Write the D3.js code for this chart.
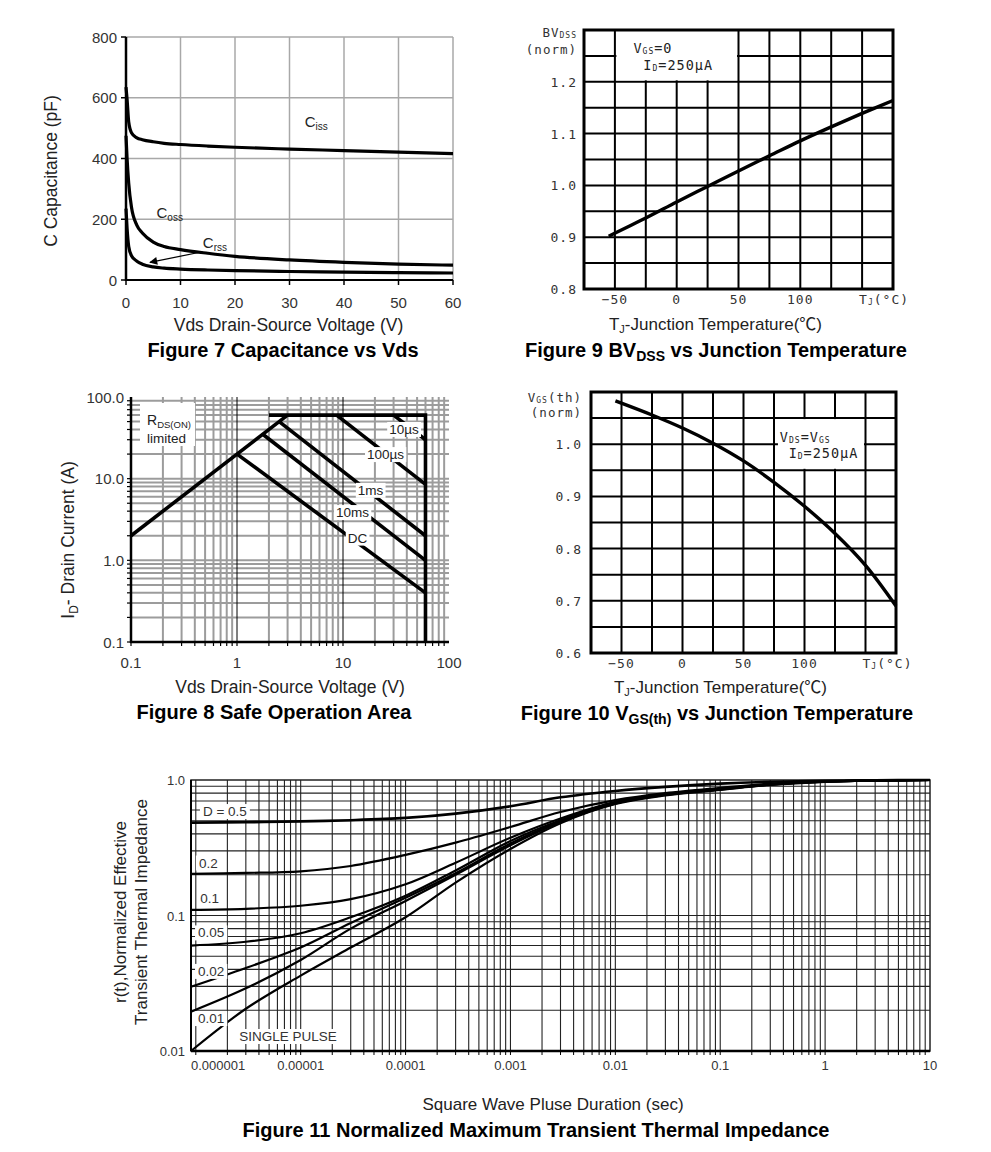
<!DOCTYPE html>
<html><head><meta charset="utf-8">
<script src="https://cdn.jsdelivr.net/npm/d3@7/dist/d3.min.js"></script>
<style>html,body{margin:0;padding:0;background:#fff}svg{display:block}</style>
</head><body>
<svg id="chart" width="991" height="1152"></svg>
<script>
// ===== Figure 7 : Capacitance vs Vds =====
const capVoltage = [0,0.2,0.5,1,2,3,5,7,10,15,20,30,40,50,60];
const capCiss = [635,595,520,485,468,462,455,450,446,441,437,431,426,421,416];
const capCoss = [475,400,318,240,180,155,125,110,100,88,78,66,58,52,49];
const capCrss = [235,170,110,80,62,52,43,39,36,33,31,28,26,24,23];
const capXTicks = [0,10,20,30,40,50,60];
const capYTicks = [0,200,400,600,800];
const capArrowV = [14,4.4];
const capArrowC = [93,58];

// ===== Figure 8 : Safe Operation Area =====
const soaXTicks = [0.1,1,10,100];
const soaXTickLabels = ["0.1","1","10","100"];
const soaYTicks = [0.1,1,10,100];
const soaYTickLabels = ["0.1","1.0","10.0","100.0"];
const soaRdsV = [0.1,3];
const soaRdsI = [2,60];
const soaLimitV = [2,60,60];
const soaLimitI = [60,60,0.1];
const soaPulseNames = ["10µs","100µs","1ms","10ms","DC"];
const soaPulseStartV = [30,8.7,2.5,1.75,1];
const soaPulseStartI = [60,60,50,35,20];
const soaPulseEndV = [60,60,60,60,60];
const soaPulseEndI = [30,8.5,2,1,0.4];
const soaLabelV = [37.6,25.2,18.2,12.3,13.7];
const soaLabelI = [40.6,20,7.3,3.9,1.9];

// ===== Figure 9 : BVDSS vs TJ =====
const tjXTicks = [-50,0,50,100];
const tjXTickLabels = ["\u221250","0","50","100"];
const tjGrid = [-50,-25,0,25,50,75,100,125,150];
const bvTemp = [-55,-25,0,25,50,75,100,125,150,175];
const bvNorm = [0.902,0.937,0.968,0.998,1.028,1.057,1.086,1.113,1.139,1.164];
const bvYTicks = [0.8,0.9,1.0,1.1,1.2];
const bvYTickLabels = ["0.8","0.9","1.0","1.1","1.2"];
const bvGrid = [0.85,0.9,0.95,1.0,1.05,1.1,1.15,1.2,1.25];

// ===== Figure 10 : VGS(th) vs TJ =====
const vthTemp = [-55,-25,0,25,50,75,100,125,150,175];
const vthNorm = [1.083,1.056,1.031,1.002,0.968,0.927,0.881,0.829,0.768,0.69];
const vthYTicks = [0.6,0.7,0.8,0.9,1.0];
const vthYTickLabels = ["0.6","0.7","0.8","0.9","1.0"];
const vthGrid = [0.65,0.7,0.75,0.8,0.85,0.9,0.95,1.0,1.05];

// ===== Figure 11 : Transient Thermal Impedance =====
const zthTime = [9e-7,3e-6,1e-5,3e-5,1e-4,3e-4,1e-3,3e-3,0.01,0.03,0.1,0.3,1,3,10];
const zthD050 = [0.485,0.488,0.495,0.505,0.525,0.565,0.64,0.745,0.83,0.89,0.94,0.97,0.987,0.996,1.0];
const zthD020 = [0.203,0.206,0.212,0.232,0.28,0.345,0.45,0.58,0.71,0.80,0.875,0.94,0.978,0.993,1.0];
const zthD010 = [0.11,0.112,0.118,0.132,0.17,0.245,0.375,0.52,0.69,0.79,0.86,0.93,0.975,0.992,1.0];
const zthD005 = [0.06,0.064,0.074,0.097,0.14,0.215,0.355,0.505,0.68,0.785,0.857,0.928,0.973,0.991,1.0];
const zthD002 = [0.0298,0.041,0.058,0.088,0.135,0.205,0.34,0.495,0.675,0.78,0.853,0.925,0.972,0.99,1.0];
const zthD001 = [0.0195,0.029,0.047,0.08,0.128,0.2,0.33,0.49,0.67,0.775,0.85,0.923,0.971,0.99,1.0];
const zthSingle = [0.01,0.0205,0.036,0.058,0.097,0.175,0.31,0.48,0.665,0.77,0.845,0.92,0.97,0.99,1.0];
const zthNames = ["D = 0.5","0.2","0.1","0.05","0.02","0.01","SINGLE PULSE"];
const zthLabelT = [1.17e-6,1.07e-6,1.1e-6,1.05e-6,1.05e-6,1.05e-6,2.6e-6];
const zthLabelR = [0.59,0.246,0.135,0.075,0.039,0.0175,0.0129];
const zthXTicks = [1e-6,1e-5,1e-4,1e-3,0.01,0.1,1,10];
const zthXTickLabels = ["0.000001","0.00001","0.0001","0.001","0.01","0.1","1","10"];
const zthYTicks = [0.01,0.1,1];
const zthYTickLabels = ["0.01","0.1","1.0"];

const SANS = '"Liberation Sans", Arial, Helvetica, "Noto Sans CJK SC", sans-serif';
const MONO = '"DejaVu Sans Mono", "Liberation Mono", monospace';
const svg = d3.select("#chart");

function rich(g, x, y, segs, o) {
  o = o || {};
  const size = o.size || 14;
  const subSize = o.subSize || Math.round(size * 0.68);
  const subDy = o.subDy != null ? o.subDy : size * 0.28;
  const t = g.append("text").attr("x", x).attr("y", y)
    .attr("font-family", o.family || SANS).attr("font-size", size)
    .attr("font-weight", o.weight || "normal").attr("fill", o.fill || "#000")
    .attr("text-anchor", o.anchor || "start");
  if (o.spacing) t.attr("letter-spacing", o.spacing);
  if (o.transform) t.attr("transform", o.transform);
  let inSub = false;
  segs.forEach(s => {
    const [str, sub] = Array.isArray(s) ? s : [s, false];
    const sp = t.append("tspan").text(str);
    if (sub) { sp.attr("font-size", subSize); if (!inSub) sp.attr("dy", subDy); }
    else if (inSub) sp.attr("dy", -subDy);
    inSub = sub;
  });
  return t;
}
function backBox(g, t, px, py) {
  const b = t.node().getBBox();
  g.insert("rect", () => t.node()).attr("x", b.x - px).attr("y", b.y - py)
    .attr("width", b.width + 2 * px).attr("height", b.height + 2 * py).attr("fill", "#fff");
}
function vLines(g, vals, x, y0, y1, color, w) {
  g.append("g").selectAll("line").data(vals).join("line")
    .attr("x1", d => x(d)).attr("x2", d => x(d)).attr("y1", y0).attr("y2", y1)
    .attr("stroke", color).attr("stroke-width", w);
}
function hLines(g, vals, y, x0, x1, color, w) {
  g.append("g").selectAll("line").data(vals).join("line")
    .attr("y1", d => y(d)).attr("y2", d => y(d)).attr("x1", x0).attr("x2", x1)
    .attr("stroke", color).attr("stroke-width", w);
}
function logMinor(lo, hi) {
  const out = [];
  for (let e = Math.floor(Math.log10(lo)); e < Math.ceil(Math.log10(hi)); e++)
    for (let k = 1; k <= 9; k++) { const v = k * Math.pow(10, e); if (v >= lo * 0.999 && v <= hi * 1.001) out.push(v); }
  return out;
}

// ---------------- Figure 7 ----------------
(function () {
  const g = svg.append("g");
  const x = d3.scaleLinear().domain([0, 60]).range([126, 453]);
  const y = d3.scaleLinear().domain([0, 800]).range([280, 37]);
  vLines(g, capXTicks.slice(1), x, y(0), y(800), "#a8a8a8", 1.5);
  hLines(g, capYTicks.slice(1), y, x(0), x(60), "#a8a8a8", 1.5);
  g.append("line").attr("x1", x(0)).attr("x2", x(0)).attr("y1", y(800)).attr("y2", y(0) + 1).attr("stroke", "#000").attr("stroke-width", 2.5);
  g.append("line").attr("x1", x(0) - 1).attr("x2", x(60)).attr("y1", y(0)).attr("y2", y(0)).attr("stroke", "#000").attr("stroke-width", 2);
  vLines(g, capXTicks, x, y(0), y(0) + 5, "#000", 1.5);
  hLines(g, capYTicks, y, x(0) - 5, x(0), "#000", 1.5);
  capXTicks.forEach(v => rich(g, x(v), 308, [String(v)], { size: 15, anchor: "middle", fill: "#333" }));
  capYTicks.forEach(v => rich(g, 117, y(v) + 5.5, [String(v)], { size: 15, anchor: "end", fill: "#333" }));
  const line = d3.line().x((d, i) => x(capVoltage[i])).y(d => y(d)).curve(d3.curveMonotoneX);
  [capCiss, capCoss, capCrss].forEach(s => g.append("path").attr("d", line(s)).attr("fill", "none").attr("stroke", "#000").attr("stroke-width", 3.2));
  rich(g, x(32.8), y(504), ["C", ["iss", true]], { size: 15, fill: "#222", subSize: 10, subDy: 3 });
  rich(g, x(5.6), y(205), ["C", ["oss", true]], { size: 15, fill: "#222", subSize: 10, subDy: 3 });
  rich(g, x(14.1), y(105), ["C", ["rss", true]], { size: 15, fill: "#222", subSize: 10, subDy: 3 });
  const defs = svg.append("defs");
  defs.append("marker").attr("id", "arr").attr("viewBox", "0 0 10 10").attr("refX", 9).attr("refY", 5)
    .attr("markerWidth", 10).attr("markerHeight", 8).attr("markerUnits", "userSpaceOnUse").attr("orient", "auto")
    .append("path").attr("d", "M0,0 L10,5 L0,10 Z").attr("fill", "#000");
  g.append("line").attr("x1", x(capArrowV[0])).attr("y1", y(capArrowC[0])).attr("x2", x(capArrowV[1])).attr("y2", y(capArrowC[1]))
    .attr("stroke", "#000").attr("stroke-width", 1.2).attr("marker-end", "url(#arr)");
  rich(g, 288.5, 331, ["Vds Drain-Source Voltage (V)"], { size: 17.5, anchor: "middle", fill: "#222" });
  rich(g, 0, 0, ["C Capacitance (pF)"], { size: 17.5, anchor: "middle", fill: "#222", transform: "translate(57,171) rotate(-90)" });
  rich(g, 283, 357, ["Figure 7 Capacitance vs Vds"], { size: 20, weight: "bold", anchor: "middle" });
})();

// ---------------- Figure 8 ----------------
(function () {
  const g = svg.append("g");
  const x = d3.scaleLog().domain([0.1, 100]).range([131, 449]);
  const y = d3.scaleLog().domain([0.1, 100]).range([642, 397]);
  const minorX = logMinor(0.1, 100).filter(v => ![0.1, 1, 10].includes(+v.toPrecision(3)));
  const minorY = logMinor(0.1, 100).filter(v => +v.toPrecision(3) !== 0.1);
  const gray = "#9c9c9c";
  vLines(g, minorX, x, y(0.1), y(100), gray, 2);
  hLines(g, minorY, y, x(0.1), x(100), gray, 2);
  vLines(g, [1, 10], x, y(0.1), y(100), "#000", 1);
  vLines(g, logMinor(0.1, 100), x, y(0.1), y(0.1) + 4, "#000", 1.2);
  hLines(g, logMinor(0.1, 100), y, x(0.1) - 4, x(0.1), "#000", 1.2);
  g.append("line").attr("x1", x(0.1)).attr("x2", x(0.1)).attr("y1", y(100)).attr("y2", y(0.1) + 1).attr("stroke", "#000").attr("stroke-width", 2.5);
  g.append("line").attr("x1", x(0.1) - 1).attr("x2", x(100)).attr("y1", y(0.1)).attr("y2", y(0.1)).attr("stroke", "#000").attr("stroke-width", 2.5);
  soaXTicks.forEach((v, i) => rich(g, x(v), 668, [soaXTickLabels[i]], { size: 15, anchor: "middle", fill: "#333" }));
  soaYTicks.forEach((v, i) => rich(g, 124, y(v) + 5.5, [soaYTickLabels[i]], { size: 15, anchor: "end", fill: "#333" }));
  const lg = g.append("g").attr("fill", "none").attr("stroke", "#000").attr("stroke-width", 3.6);
  const pl = (vs, is) => d3.line()(vs.map((v, i) => [x(v), y(is[i])]));
  lg.append("path").attr("d", pl(soaRdsV, soaRdsI));
  lg.append("path").attr("d", pl(soaLimitV, soaLimitI));
  soaPulseNames.forEach((n, i) => lg.append("path").attr("d", pl([soaPulseStartV[i], soaPulseEndV[i]], [soaPulseStartI[i], soaPulseEndI[i]])));
  soaPulseNames.forEach((n, i) => {
    const t = rich(g, x(soaLabelV[i]), y(soaLabelI[i]) + 5, [n], { size: 13.5, anchor: "middle", fill: "#222" });
    backBox(g, t, 2, 0);
  });
  const t1 = rich(g, 147, 425, ["R", ["DS(ON)", true]], { size: 14, fill: "#222", subSize: 9.5, subDy: 3 });
  rich(g, 147, 443, ["limited"], { size: 13.5, fill: "#222" });
  g.insert("rect", () => t1.node()).attr("x", 140).attr("y", 403).attr("width", 55).attr("height", 43).attr("fill", "#fff");
  rich(g, 290, 693, ["Vds Drain-Source Voltage (V)"], { size: 17.5, anchor: "middle", fill: "#222" });
  rich(g, 0, 0, ["I", ["D", true], "- Drain Current (A)"], { size: 17.5, anchor: "middle", fill: "#222", subSize: 12, subDy: 4, transform: "translate(74,540) rotate(-90)" });
  rich(g, 274, 719, ["Figure 8 Safe Operation Area"], { size: 20, weight: "bold", anchor: "middle" });
})();

// ---------------- Figure 9 / 10 (shared style) ----------------
function tempPanel(o) {
  const g = svg.append("g");
  const x = d3.scaleLinear().domain([-75, 175]).range(o.xr);
  const y = d3.scaleLinear().domain(o.yd).range(o.yr);
  vLines(g, tjGrid, x, y(o.yd[0]), y(o.yd[1]), "#000", 2);
  hLines(g, o.grid, y, x(-75), x(175), "#000", 2);
  g.append("rect").attr("x", x(o.box[0]) + 1.5).attr("y", y(o.box[3]) + 1).attr("width", x(o.box[1]) - x(o.box[0]) - 3)
    .attr("height", y(o.box[2]) - y(o.box[3]) - 2.5).attr("fill", "#fff");
  g.append("path").attr("d", d3.line().curve(d3.curveCatmullRom.alpha(0.5))(o.t.map((t, i) => [x(t), y(o.v[i])])))
    .attr("fill", "none").attr("stroke", "#000").attr("stroke-width", 3.4);
  g.append("rect").attr("x", x(-75)).attr("y", y(o.yd[1])).attr("width", x(175) - x(-75)).attr("height", y(o.yd[0]) - y(o.yd[1]))
    .attr("fill", "none").attr("stroke", "#000").attr("stroke-width", 3);
  const tk = { size: 13, family: MONO, fill: "#333", spacing: 1 };
  tjXTicks.forEach((v, i) => rich(g, x(v), o.tickY, [tjXTickLabels[i]], Object.assign({ anchor: "middle" }, tk)));
  rich(g, x(150) - 3, o.tickY, ["T", ["J", true], "(\u00b0C)"], Object.assign({ subSize: 8, subDy: 1 }, tk));
  o.yTicks.forEach((v, i) => rich(g, o.yTickX, y(v) + 5, [o.yTickLabels[i]], Object.assign({ anchor: "end" }, tk)));
  rich(g, o.yTickX, o.yHead[0], o.yHeadSegs, Object.assign({ anchor: "end", subSize: 8, subDy: 1 }, tk, { size: 12.5 }));
  rich(g, o.yTickX, o.yHead[1], ["(norm)"], Object.assign({ anchor: "end" }, tk, { size: 12.5 }));
  o.notes.forEach(n => rich(g, x(n.t), y(n.v), n.segs, { size: 13.5, family: MONO, fill: "#222", spacing: 1, subSize: 8, subDy: 1 }));
  rich(g, (o.xr[0] + o.xr[1]) / 2 - 23, o.labelY, ["T", ["J", true], "-Junction Temperature(\u2103)"], { size: 17, anchor: "middle", fill: "#222", subSize: 11, subDy: 3 });
  rich(g, o.titleX, o.titleY, o.title, { size: 20, weight: "bold", anchor: "middle", subSize: 14, subDy: 4 });
}
tempPanel({
  xr: [584, 893], yd: [0.8, 1.3], yr: [289, 30], grid: bvGrid, t: bvTemp, v: bvNorm,
  box: [-50, 50, 1.2, 1.3], tickY: 304, yTicks: bvYTicks, yTickLabels: bvYTickLabels, yTickX: 577,
  yHead: [37, 54], yHeadSegs: ["BV", ["DSS", true]],
  notes: [{ t: -35, v: 1.256, segs: ["V", ["GS", true], "=0"] }, { t: -27, v: 1.223, segs: ["I", ["D", true], "=250\u03bcA"] }],
  labelY: 330, titleX: 716, titleY: 357, title: ["Figure 9 BV", ["DSS", true], " vs Junction Temperature"]
});
tempPanel({
  xr: [591, 896], yd: [0.6, 1.1], yr: [653, 392], grid: vthGrid, t: vthTemp, v: vthNorm,
  box: [77, 150, 0.95, 1.05], tickY: 668, yTicks: vthYTicks, yTickLabels: vthYTickLabels, yTickX: 582,
  yHead: [402, 417], yHeadSegs: ["V", ["GS", true], "(th)"],
  notes: [{ t: 79.8, v: 1.005, segs: ["V", ["DS", true], "=V", ["GS", true]] }, { t: 87, v: 0.973, segs: ["I", ["D", true], "=250\u03bcA"] }],
  labelY: 693, titleX: 717, titleY: 720, title: ["Figure 10 V", ["GS(th)", true], " vs Junction Temperature"]
});

// ---------------- Figure 11 ----------------
(function () {
  const g = svg.append("g");
  const x = d3.scaleLog().domain([9e-7, 10]).range([191, 930]);
  const y = d3.scaleLog().domain([0.01, 1]).range([1051, 780]);
  const mx = logMinor(1e-6, 10);
  const my = logMinor(0.01, 1);
  vLines(g, mx, x, y(0.01), y(1), "#222", 1.1);
  hLines(g, my, y, x(9e-7), x(10), "#222", 1.1);
  vLines(g, mx, x, y(0.01), y(0.01) + 4, "#000", 1);
  g.append("rect").attr("x", x(9e-7)).attr("y", y(1)).attr("width", x(10) - x(9e-7)).attr("height", y(0.01) - y(1))
    .attr("fill", "none").attr("stroke", "#222").attr("stroke-width", 1.5);
  g.append("line").attr("x1", x(9e-7)).attr("x2", x(10)).attr("y1", y(0.01)).attr("y2", y(0.01)).attr("stroke", "#000").attr("stroke-width", 2.5);
  g.append("line").attr("x1", x(9e-7)).attr("x2", x(9e-7)).attr("y1", y(1)).attr("y2", y(0.01)).attr("stroke", "#000").attr("stroke-width", 2);
  const series = [zthD050, zthD020, zthD010, zthD005, zthD002, zthD001, zthSingle];
  const line = d3.line().x((d, i) => x(zthTime[i])).y(d => y(d)).curve(d3.curveCatmullRom.alpha(0.5));
  series.forEach((s, k) => g.append("path").attr("d", line(s)).attr("fill", "none").attr("stroke", "#000").attr("stroke-width", k === 0 ? 2.6 : 2.2));
  zthNames.forEach((n, i) => {
    const t = rich(g, x(zthLabelT[i]), y(zthLabelR[i]) + 5, [n], { size: 13.5, fill: "#333" });
    backBox(g, t, 3, 0);
  });
  zthXTicks.forEach((v, i) => rich(g, i === 0 ? x(9e-7) : x(v), 1070, [zthXTickLabels[i]], { size: 13, anchor: i === 0 ? "start" : "middle", fill: "#333" }));
  zthYTicks.forEach((v, i) => rich(g, 185, y(v) + 5, [zthYTickLabels[i]], { size: 13, anchor: "end", fill: "#333" }));
  rich(g, 553, 1110, ["Square Wave Pluse Duration (sec)"], { size: 17, anchor: "middle", fill: "#222" });
  rich(g, 0, 0, ["r(t),Normalized Effective"], { size: 17, anchor: "middle", fill: "#222", transform: "translate(126,912) rotate(-90)" });
  rich(g, 0, 0, ["Transient Thermal Impedance"], { size: 17, anchor: "middle", fill: "#222", transform: "translate(147,912) rotate(-90)" });
  rich(g, 536, 1137, ["Figure 11 Normalized Maximum Transient Thermal Impedance"], { size: 20, weight: "bold", anchor: "middle" });
})();
</script>
</body></html>
